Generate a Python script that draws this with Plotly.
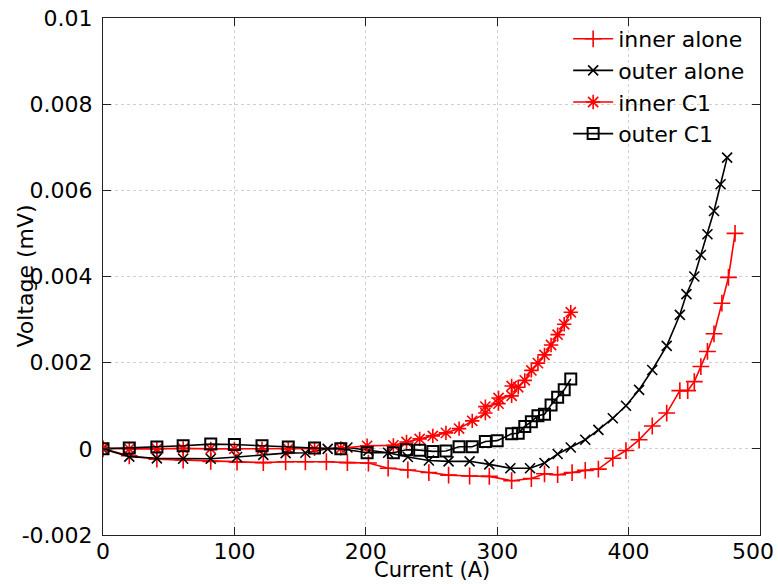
import plotly.graph_objects as go

# ---------------- data ----------------
inner_alone_I = [0, 20, 41, 61, 82, 102, 122, 139, 154, 170, 186, 202, 217, 232, 248, 263, 279, 294,
                 311, 326, 336, 346, 357, 367, 377, 388, 398, 408, 418, 429, 439, 445, 450, 455, 460,
                 465, 471, 476, 481]
inner_alone_V = [0, -0.00016, -0.00024, -0.00026, -0.00029, -0.00031, -0.00032, -0.0003, -0.0003,
                 -0.0003, -0.00032, -0.00033, -0.00045, -0.00049, -0.00055, -0.00061, -0.00063,
                 -0.00064, -0.00074, -0.00069, -0.00058, -0.0006, -0.00055, -0.0005, -0.00047,
                 -0.00022, -0.00004, 0.00021, 0.00053, 0.00083, 0.00135, 0.00135, 0.00156, 0.00191,
                 0.00226, 0.00267, 0.00338, 0.00398, 0.005]

outer_alone_I = [0, 20, 41, 61, 82, 102, 122, 139, 154, 171, 186, 202, 217, 232, 248, 263, 279, 294,
                 310, 325, 336, 346, 356, 367, 377, 388, 398, 408, 418, 429, 439, 444, 450, 455, 460,
                 465, 470, 475]
outer_alone_V = [0, -0.00018, -0.00022, -0.00023, -0.00023, -0.00019, -0.00014, -0.0001, -0.00009,
                 0.0, 0.00003, -0.00004, -0.00009, -0.00019, -0.00027, -0.00029, -0.00029, -0.00036,
                 -0.00045, -0.00045, -0.00033, -0.00012, 0.00003, 0.00021, 0.00044, 0.00071, 0.001,
                 0.00137, 0.00183, 0.00239, 0.00311, 0.00359, 0.004, 0.0045, 0.00498, 0.00552,
                 0.00614, 0.00676]

inner_c1_I = [0, 20, 41, 61, 82, 100, 121, 141, 161, 181, 201, 221, 231, 241, 251, 261, 271, 281,
              291, 291, 301, 301, 311, 311, 316, 321, 326, 331, 336, 341, 346, 351, 356]
inner_c1_V = [0.00002, 0.0, 0.0, 0.00001, 0.0, 0.0, 0.0, 0.0, 0.0, 0.00001, 0.00007, 0.00008,
              0.00016, 0.00023, 0.0003, 0.00037, 0.00047, 0.00065, 0.00083, 0.00098, 0.00105,
              0.00118, 0.00123, 0.00146, 0.00143, 0.00159, 0.00182, 0.00199, 0.00218, 0.00241,
              0.00265, 0.00289, 0.00317]

outer_c1_I = [0, 20, 41, 61, 82, 100, 121, 141, 161, 181, 201, 221, 231, 241, 251, 261, 271, 281,
              291, 300, 311, 316, 321, 326, 331, 336, 341, 346, 351, 356]
outer_c1_V = [0, 0.00002, 0.00004, 0.00007, 0.00011, 0.0001, 0.00007, 0.00004, 0.00002, 0.0,
              -0.00009, -0.00009, -0.00002, -0.00003, -0.00006, -0.00005, 0.00005, 0.00005,
              0.00017, 0.00019, 0.00035, 0.00036, 0.00052, 0.00063, 0.00077, 0.0008, 0.00102,
              0.0012, 0.00137, 0.00162]

x_ticks = [0, 100, 200, 300, 400, 500]
x_tick_labels = ["0", "100", "200", "300", "400", ""]   # last label drawn as an annotation
x_last_label = "500"
y_ticks = [-0.002, 0, 0.002, 0.004, 0.006, 0.008, 0.01]
y_tick_labels = ["-0.002", "0", "0.002", "0.004", "0.006", "0.008", "0.01"]
x_title = "Current (A)"
y_title = "Voltage (mV)"

FONT = "DejaVu Sans"
FS = 22
RED = "#ff0000"
BLACK = "#000000"

W, H = 778, 584
ML, MR, MT, MB = 103, 18, 18, 49
PW = W - ML - MR
PH = H - MT - MB

fig = go.Figure()
fig.add_trace(go.Scatter(x=inner_alone_I, y=inner_alone_V, name="inner alone", mode="lines+markers",
                         line=dict(color=RED, width=1.6),
                         marker=dict(symbol="cross-thin", size=12, line=dict(color=RED, width=1.6))))
fig.add_trace(go.Scatter(x=outer_alone_I, y=outer_alone_V, name="outer alone", mode="lines+markers",
                         line=dict(color=BLACK, width=1.6),
                         marker=dict(symbol="x-thin", size=10, line=dict(color=BLACK, width=1.6))))
fig.add_trace(go.Scatter(x=inner_c1_I, y=inner_c1_V, name="inner C1", mode="lines+markers",
                         line=dict(color=RED, width=1.6),
                         marker=dict(symbol="asterisk", size=12, line=dict(color=RED, width=1.6))))
fig.add_trace(go.Scatter(x=outer_c1_I, y=outer_c1_V, name="outer C1", mode="lines+markers",
                         line=dict(color=BLACK, width=1.6),
                         marker=dict(symbol="square-open", size=11, color=BLACK,
                                     line=dict(color="#222222", width=2))))

axis_common = dict(showline=True, linecolor="#222222", linewidth=1, mirror="ticks",
                   ticks="inside", ticklen=8, tickcolor="#222222", automargin=False,
                   ticklabeloverflow="allow",
                   showgrid=True, gridcolor="#d0d0d0", griddash="dot", gridwidth=1,
                   zeroline=False, tickfont=dict(family=FONT, size=FS, color="black"))

fig.update_xaxes(range=[0, 500], tickvals=x_ticks, ticktext=x_tick_labels,
                 ticklabelstandoff=-3, **axis_common)
fig.update_yaxes(range=[-0.002, 0.01], tickvals=y_ticks, ticktext=y_tick_labels,
                 ticklabelstandoff=5, **axis_common)

fig.add_annotation(text=x_last_label, xref="paper", yref="paper", x=1.0, y=0,
                   xanchor="right", yanchor="top", xshift=16, yshift=-2, showarrow=False,
                   font=dict(family=FONT, size=FS, color="black"))
fig.add_annotation(text=x_title, xref="paper", yref="paper", x=0.5, y=-49 / PH,
                   xanchor="center", yanchor="bottom", showarrow=False,
                   font=dict(family=FONT, size=21, color="black"))
fig.add_annotation(text=y_title, xref="paper", yref="paper", x=-(ML - 25) / PW, y=0.5,
                   xanchor="center", yanchor="middle", textangle=-90, showarrow=False,
                   font=dict(family=FONT, size=FS, color="black"))

fig.update_layout(
    width=W, height=H,
    margin=dict(l=ML, r=MR, t=MT, b=MB, autoexpand=False),
    plot_bgcolor="white", paper_bgcolor="white",
    font=dict(family=FONT, size=FS, color="black"),
    legend=dict(x=0.985, y=1.0, xanchor="right", yanchor="top", bgcolor="rgba(0,0,0,0)",
                font=dict(family=FONT, size=FS, color="black"), tracegroupgap=0,
                itemwidth=40),
    showlegend=True,
)

fig.write_html("out.html", config={"displayModeBar": False},
               post_script="document.body.style.margin='0';")
